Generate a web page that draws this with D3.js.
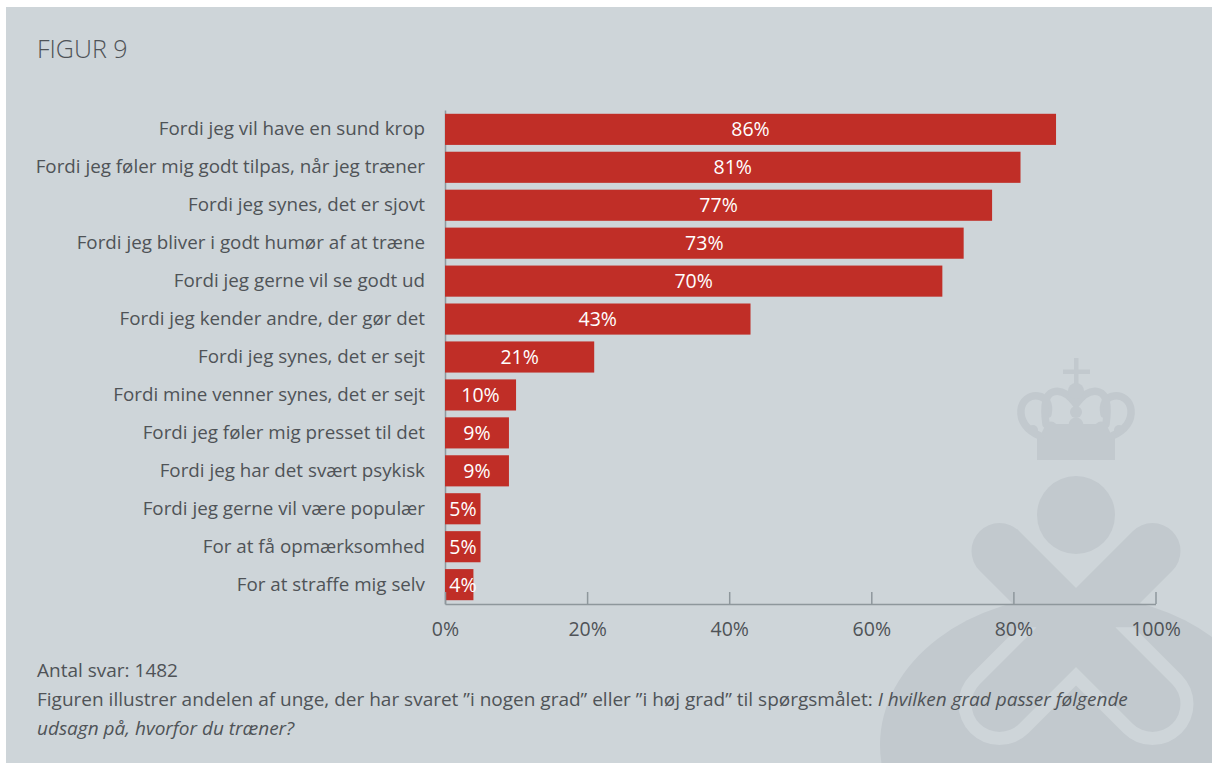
<!DOCTYPE html>
<html>
<head>
<meta charset="utf-8">
<script src="https://cdn.jsdelivr.net/npm/d3@7/dist/d3.min.js"></script>
<style>
  html, body { margin: 0; padding: 0; background: #ffffff; }
  svg { display: block; }
  text { font-family: "Open Sans", Roboto, sans-serif; }
</style>
</head>
<body>
<svg id="chart" width="1212" height="763"></svg>
<script>
// Reasons for training, share of respondents answering "to some / high degree"
const categories = [
  "Fordi jeg vil have en sund krop",
  "Fordi jeg føler mig godt tilpas, når jeg træner",
  "Fordi jeg synes, det er sjovt",
  "Fordi jeg bliver i godt humør af at træne",
  "Fordi jeg gerne vil se godt ud",
  "Fordi jeg kender andre, der gør det",
  "Fordi jeg synes, det er sejt",
  "Fordi mine venner synes, det er sejt",
  "Fordi jeg føler mig presset til det",
  "Fordi jeg har det svært psykisk",
  "Fordi jeg gerne vil være populær",
  "For at få opmærksomhed",
  "For at straffe mig selv"
];
const values = [86, 81, 77, 73, 70, 43, 21, 10, 9, 9, 5, 5, 4];
const xTickValues = [0, 20, 40, 60, 80, 100];

const titleText = "FIGUR 9";
const noteCount = "Antal svar: 1482";
const noteRegular = "Figuren illustrer andelen af unge, der har svaret ”i nogen grad” eller ”i høj grad” til spørgsmålet: ";
const noteItalic1 = "I hvilken grad passer følgende";
const noteItalic2 = "udsagn på, hvorfor du træner?";

const W = 1212, H = 763;
const FONT = "\"Open Sans\", Roboto, sans-serif";
const colors = {
  panel: "#ced5d9",
  mark: "#c2c9ce",
  bar: "#c02e27",
  text: "#4f5357",
  axis: "#8e979c"
};

const svg = d3.select("#chart");

// panel background
svg.append("rect")
  .attr("x", 6).attr("y", 7)
  .attr("width", W - 6).attr("height", H - 7)
  .attr("fill", colors.panel);

// ---- emblem watermark (crown, head and cross) ----
const mark = svg.append("g").attr("fill", colors.mark);
const cx = 1076, cy = 627.5;

// large oval base
mark.append("ellipse")
  .attr("cx", cx).attr("cy", 745)
  .attr("rx", 196).attr("ry", 150);

// light outline around the lower half of the cross
svg.append("clipPath").attr("id", "lowerHalf")
  .append("rect").attr("x", 800).attr("y", cy).attr("width", 412).attr("height", 200);

const arms = [
  [[cx - 76.5, cy - 76.5], [cx + 76.5, cy + 76.5]],
  [[cx + 76.5, cy - 76.5], [cx - 76.5, cy + 76.5]]
];
const line = d3.line();
svg.append("g").attr("clip-path", "url(#lowerHalf)")
  .selectAll("path").data(arms).join("path")
  .attr("d", d => line(d))
  .attr("stroke", colors.panel)
  .attr("stroke-width", 82)
  .attr("stroke-linecap", "round")
  .attr("fill", "none");

svg.append("g")
  .selectAll("path").data(arms).join("path")
  .attr("d", d => line(d))
  .attr("stroke", colors.mark)
  .attr("stroke-width", 56)
  .attr("stroke-linecap", "round")
  .attr("fill", "none");

// head
mark.append("circle").attr("cx", cx).attr("cy", 515).attr("r", 39);

// crown
const crown = svg.append("g");
crown.append("rect").attr("x", 1037).attr("y", 436).attr("width", 78).attr("height", 24).attr("fill", colors.mark);
crown.append("rect").attr("x", 1074).attr("y", 358).attr("width", 4.5).attr("height", 28).attr("fill", colors.mark);
crown.append("rect").attr("x", 1063).attr("y", 369.5).attr("width", 27).attr("height", 4.5).attr("fill", colors.mark);
const crownStroke = crown.append("g")
  .attr("fill", "none").attr("stroke", colors.mark)
  .attr("stroke-width", 7.5).attr("stroke-linecap", "round");
// outer loops
crownStroke.append("path").attr("d", "M1040,436 C1026,430 1020,420 1021,410 C1022,400 1030,395 1038,396 C1046,397 1050,404 1048,414");
crownStroke.append("path").attr("d", "M1112,436 C1126,430 1132,420 1131,410 C1130,400 1122,395 1114,396 C1106,397 1102,404 1104,414");
// inner arches meeting at the orb
crownStroke.append("path").attr("d", "M1046,424 C1044,410 1044,395 1053,392 C1062,389 1070,396 1076,404 C1082,396 1090,389 1099,392 C1108,395 1108,410 1106,424");
// pearls and orb
const pearls = [[1076, 391, 8], [1076, 412, 6], [1076, 425, 7.5], [1051, 428, 6.5], [1101, 428, 6.5], [1033, 430, 5], [1119, 430, 5]];
crown.selectAll("circle").data(pearls).join("circle")
  .attr("cx", d => d[0]).attr("cy", d => d[1]).attr("r", d => d[2])
  .attr("fill", colors.mark);
crown.append("path").attr("d", "M1040,436 L1046,424 L1106,424 L1112,436 Z").attr("fill", colors.mark);

// ---- title ----
svg.append("text")
  .attr("x", 37).attr("y", 58)
  .attr("font-size", 25)
  .attr("font-weight", 300)
  .attr("fill", colors.text)
  .text(titleText);

// ---- chart ----
const x = d3.scaleLinear().domain([0, 100]).range([445, 1155.5]);
const y = d3.scaleBand().domain(categories).range([110, 604])
  .paddingInner(0.18).paddingOuter(0.1);

const yAxis = svg.append("g")
  .attr("transform", `translate(${x(0)},0)`)
  .call(d3.axisLeft(y).tickSize(0).tickPadding(20).tickSizeOuter(0));
yAxis.select(".domain").attr("stroke", colors.axis).attr("stroke-width", 1.5);
yAxis.selectAll(".tick text")
  .attr("font-size", 18.8)
  .attr("font-family", FONT)
  .attr("fill", colors.text);

svg.append("g").selectAll("rect").data(values).join("rect")
  .attr("x", x(0))
  .attr("y", (d, i) => y(categories[i]))
  .attr("width", d => x(d) - x(0))
  .attr("height", y.bandwidth())
  .attr("fill", colors.bar);

svg.append("g").selectAll("text").data(values).join("text")
  .attr("x", d => Math.max((x(0) + x(d)) / 2, x(0) + 18))
  .attr("y", (d, i) => y(categories[i]) + y.bandwidth() / 2)
  .attr("dy", "0.36em")
  .attr("text-anchor", "middle")
  .attr("font-size", 19.5)
  .attr("fill", "#ffffff")
  .text(d => d + "%");

const xAxis = svg.append("g")
  .attr("transform", "translate(0,604)")
  .call(d3.axisBottom(x).tickValues(xTickValues).tickFormat(d => d + "%")
    .tickSize(-12).tickSizeOuter(0).tickPadding(18));
xAxis.select(".domain").attr("stroke", colors.axis).attr("stroke-width", 1.5);
xAxis.selectAll(".tick line").attr("stroke", colors.axis).attr("stroke-width", 1.5);
xAxis.selectAll(".tick text")
  .attr("font-size", 19.5)
  .attr("font-family", FONT)
  .attr("fill", colors.text);

// ---- notes ----
const notes = svg.append("g").attr("font-size", 19).attr("fill", colors.text);
notes.append("text").attr("x", 37).attr("y", 677).text(noteCount);
const n2 = notes.append("text").attr("x", 37).attr("y", 706);
n2.append("tspan").text(noteRegular);
n2.append("tspan").attr("font-style", "italic").text(noteItalic1);
notes.append("text").attr("x", 37).attr("y", 735).attr("font-style", "italic").text(noteItalic2);
</script>
</body>
</html>
